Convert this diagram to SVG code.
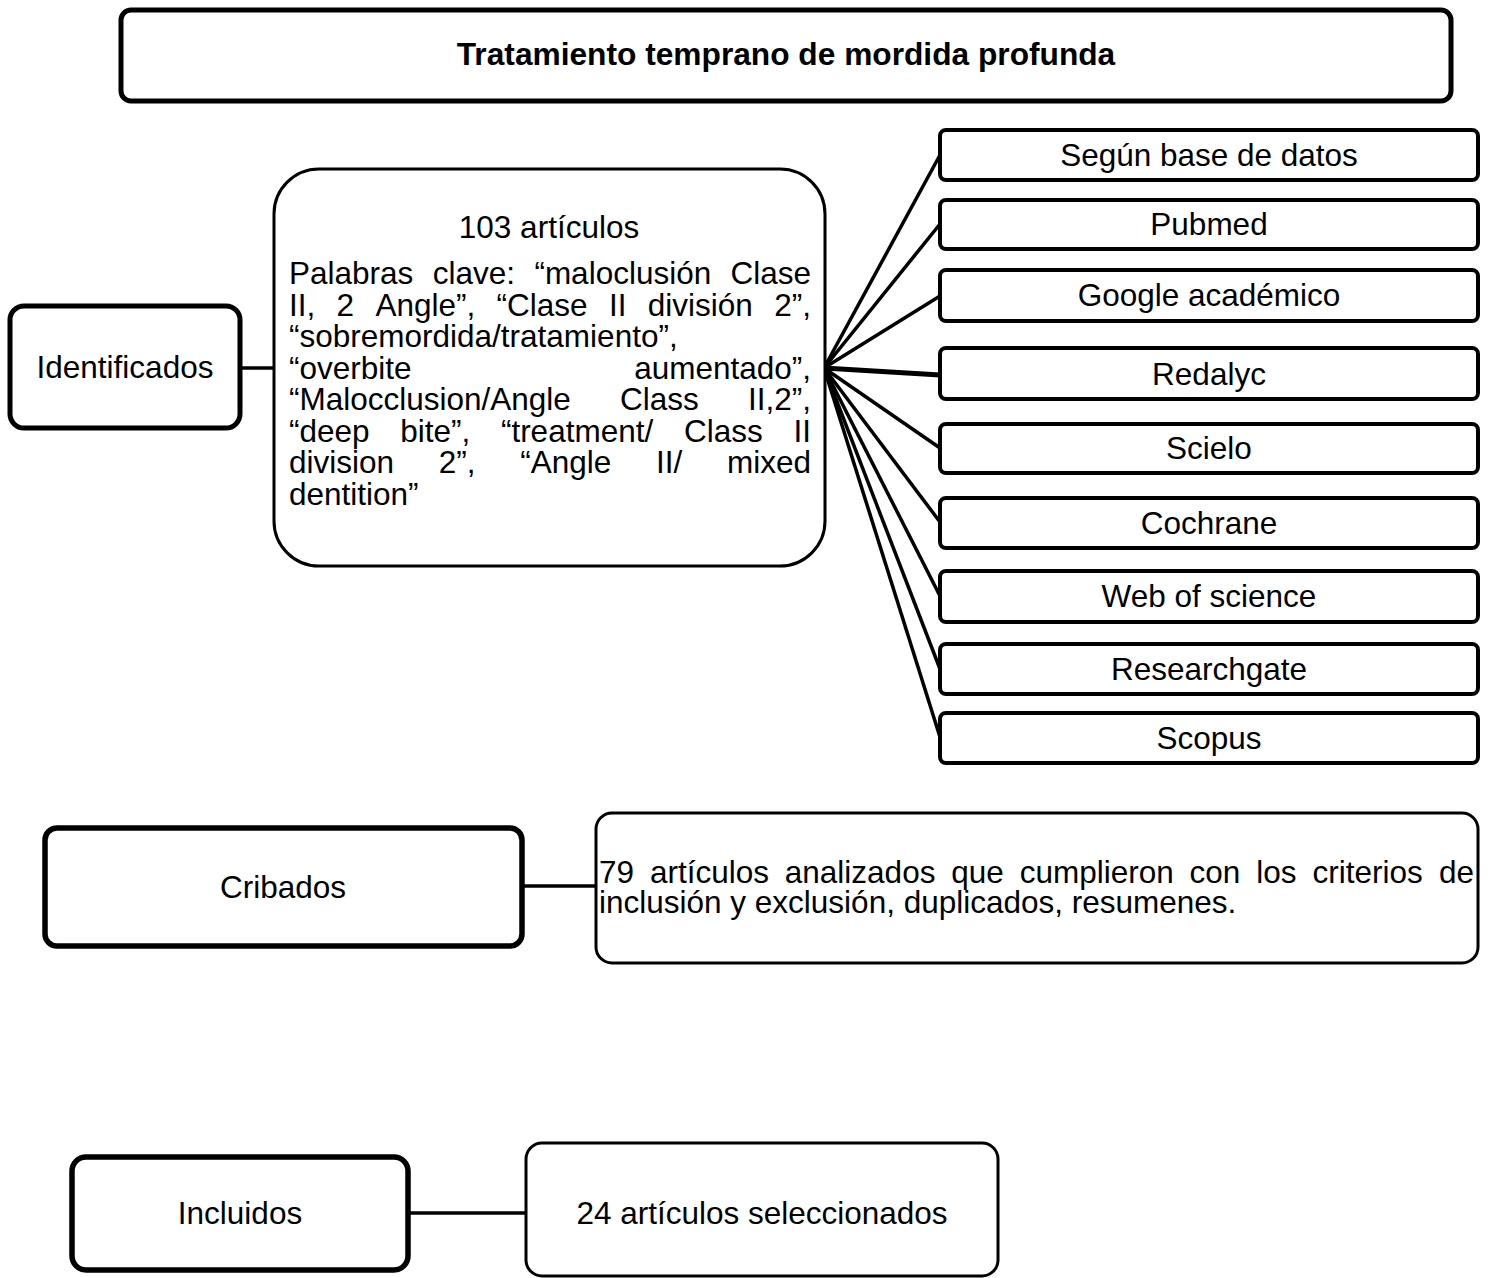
<svg xmlns="http://www.w3.org/2000/svg" width="1494" height="1278" viewBox="0 0 1494 1278">
<style>
text{font-family:"Liberation Sans",Arial,sans-serif;font-size:31.5px;fill:#000}
.c{text-anchor:middle}
.e{text-anchor:end}
.b{font-weight:bold;font-size:31.7px}
.box{fill:#fff;stroke:#000}
.db{fill:#fff;stroke:#000;stroke-width:4}
.con line{stroke:#000;stroke-width:3.5}
</style>
<rect width="1494" height="1278" fill="#fff"/>
<g class="con">
<line x1="240" y1="368" x2="274" y2="368"/>
<line x1="824" y1="368" x2="940" y2="155"/>
<line x1="824" y1="368" x2="940" y2="224"/>
<line x1="824" y1="368" x2="940" y2="296"/>
<line x1="824" y1="368" x2="940" y2="375" style="stroke-width:5"/>
<line x1="824" y1="368" x2="940" y2="448"/>
<line x1="824" y1="368" x2="940" y2="522"/>
<line x1="824" y1="368" x2="940" y2="596"/>
<line x1="824" y1="368" x2="940" y2="669"/>
<line x1="824" y1="368" x2="940" y2="737"/>
<line x1="522" y1="886" x2="596" y2="886"/>
<line x1="408" y1="1213" x2="526" y2="1213"/>
</g>
<g id="title"><rect class="box" x="121" y="10" width="1330" height="91" rx="10" stroke-width="5"/><text class="c b" x="786" y="65">Tratamiento temprano de mordida profunda</text></g>
<g id="identificados"><rect class="box" x="10" y="306" width="230" height="122" rx="14" stroke-width="5"/><text class="c" x="125" y="378">Identificados</text></g>
<g id="articulos103"><rect class="box" x="274" y="169" width="551" height="397" rx="45" stroke-width="3"/>
<text class="c" x="549" y="238">103 artículos</text>
<text y="284"><tspan x="289">Palabras</tspan><tspan x="432.7">clave:</tspan><tspan x="534.4">“maloclusión</tspan></text><text class="e" x="811" y="284">Clase</text>
<text y="315.5"><tspan x="289">II,</tspan><tspan x="336.6">2</tspan><tspan x="375.5">Angle”,</tspan><tspan x="496.6">“Clase</tspan><tspan x="609">II</tspan><tspan x="647.8">división</tspan></text><text class="e" x="811" y="315.5">2”,</text>
<text x="289" y="347">“sobremordida/tratamiento”,</text>
<text x="289" y="378.5">“overbite</text><text class="e" x="811" y="378.5">aumentado”,</text>
<text y="410"><tspan x="289">“Malocclusion/Angle</tspan><tspan x="620">Class</tspan></text><text class="e" x="811" y="410">II,2”,</text>
<text y="441.5"><tspan x="289">“deep</tspan><tspan x="400.2">bite”,</tspan><tspan x="500.9">“treatment/</tspan><tspan x="683.9">Class</tspan></text><text class="e" x="811" y="441.5">II</text>
<text y="473"><tspan x="289">division</tspan><tspan x="438.7">2”,</tspan><tspan x="520.2">“Angle</tspan><tspan x="655.9">II/</tspan></text><text class="e" x="811" y="473">mixed</text>
<text x="289" y="504.5">dentition”</text>
</g>
<g id="db1"><rect class="db" x="940" y="130" width="538" height="50" rx="6"/><text class="c" x="1209" y="166">Según base de datos</text></g>
<g id="db2"><rect class="db" x="940" y="200" width="538" height="49" rx="6"/><text class="c" x="1209" y="235">Pubmed</text></g>
<g id="db3"><rect class="db" x="940" y="270" width="538" height="51" rx="6"/><text class="c" x="1209" y="306">Google académico</text></g>
<g id="db4"><rect class="db" x="940" y="348" width="538" height="51" rx="6"/><text class="c" x="1209" y="385">Redalyc</text></g>
<g id="db5"><rect class="db" x="940" y="424" width="538" height="49" rx="6"/><text class="c" x="1209" y="459">Scielo</text></g>
<g id="db6"><rect class="db" x="940" y="498" width="538" height="50" rx="6"/><text class="c" x="1209" y="534">Cochrane</text></g>
<g id="db7"><rect class="db" x="940" y="571" width="538" height="51" rx="6"/><text class="c" x="1209" y="607">Web of science</text></g>
<g id="db8"><rect class="db" x="940" y="644" width="538" height="50" rx="6"/><text class="c" x="1209" y="680">Researchgate</text></g>
<g id="db9"><rect class="db" x="940" y="713" width="538" height="50" rx="6"/><text class="c" x="1209" y="749">Scopus</text></g>
<g id="cribados"><rect class="box" x="45" y="828" width="477" height="118" rx="12" stroke-width="5.5"/><text class="c" x="283" y="898">Cribados</text></g>
<g id="articulos79"><rect class="box" x="596" y="813" width="882" height="150" rx="16" stroke-width="3"/>
<text y="883"><tspan x="599">79</tspan><tspan x="649.9">artículos</tspan><tspan x="784.8">analizados</tspan><tspan x="951.3">que</tspan><tspan x="1019.7">cumplieron</tspan><tspan x="1189.6">con</tspan><tspan x="1256.3">los</tspan><tspan x="1312.5">criterios</tspan></text><text class="e" x="1474" y="883">de</text>
<text x="599" y="913">inclusión y exclusión, duplicados, resumenes.</text>
</g>
<g id="incluidos"><rect class="box" x="72" y="1157" width="336" height="113" rx="14" stroke-width="5.5"/><text class="c" x="240" y="1224">Incluidos</text></g>
<g id="articulos24"><rect class="box" x="526" y="1143" width="472" height="133" rx="16" stroke-width="3"/><text class="c" x="762" y="1224">24 artículos seleccionados</text></g>
</svg>
